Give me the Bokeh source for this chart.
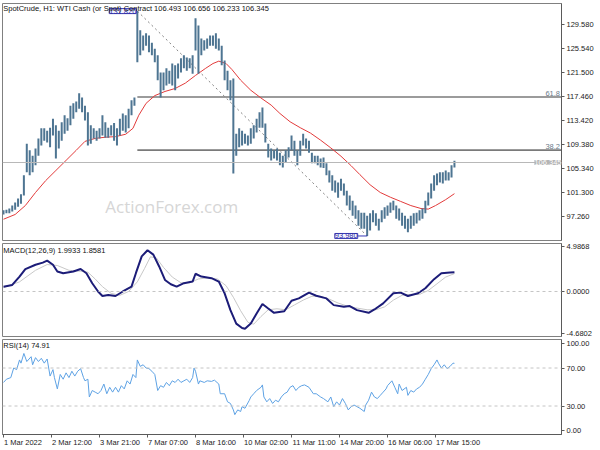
from bokeh.plotting import figure
from bokeh.models import Range1d, FixedTicker, Label, Span, PrintfTickFormatter
from bokeh.layouts import column
from bokeh.embed import file_html
from bokeh.resources import INLINE

FONT = "Liberation Sans"
FS = "7.5px"

# ---------------- data ----------------
x_labels = ["1 Mar 2022", "2 Mar 12:00", "3 Mar 21:00", "7 Mar 07:00", "8 Mar 16:00",
            "10 Mar 02:00", "11 Mar 11:00", "14 Mar 20:00", "16 Mar 06:00", "17 Mar 15:00"]
x_label_bars = [0, 33, 66, 99, 132, 165, 198, 231, 264, 297]

price_ticks = [97.26, 101.30, 105.34, 109.38, 113.42, 117.46, 121.50, 125.54, 129.58]

bar_high = [98.3, 98.4, 98.6, 99.1, 99.6, 100.3, 101.0, 104.2, 109.5, 108.4,
            107.5, 108.7, 110.4, 112.1, 112.1, 111.7, 112.2, 113.7, 112.6, 111.7,
            113.1, 114.3, 113.8, 115.9, 116.3, 116.6, 118.0, 117.3, 115.9, 114.8,
            112.6, 112.1, 111.7, 112.1, 114.3, 113.1, 112.2, 112.6, 113.0, 112.1,
            113.7, 114.6, 114.3, 115.4, 116.8, 117.3, 131.82, 128.6, 127.7, 128.1,
            127.7, 126.5, 125.5, 124.4, 121.5, 121.5, 122.2, 121.8, 123.0, 122.7,
            123.0, 123.9, 124.4, 124.0, 123.9, 124.4, 130.6, 129.4, 127.2, 126.9,
            127.2, 127.7, 127.7, 128.1, 127.2, 126.0, 123.5, 121.8, 120.2, 120.5,
            111.2, 112.1, 111.7, 111.2, 110.9, 112.1, 112.6, 113.7, 114.8, 115.6,
            112.9, 109.5, 108.7, 108.4, 108.7, 108.0, 107.5, 108.4, 108.9, 110.9,
            110.0, 108.4, 110.0, 111.2, 110.4, 110.0, 108.0, 107.5, 107.5, 107.0,
            107.2, 106.2, 105.0, 104.2, 103.3, 103.0, 103.6, 102.8, 101.6, 100.8,
            99.9, 99.1, 98.3, 97.9, 97.9, 97.4, 97.8, 98.3, 97.8, 96.9,
            98.3, 98.8, 99.1, 99.6, 99.9, 99.1, 98.6, 97.9, 97.4, 96.9,
            97.4, 97.8, 97.9, 98.3, 98.6, 99.9, 101.3, 102.8, 104.2, 104.5,
            104.7, 104.7, 105.0, 104.7, 105.9, 106.656]

bar_low = [97.6, 97.8, 97.8, 98.1, 98.4, 98.9, 99.4, 100.8, 104.7, 104.2,
           104.7, 105.9, 107.5, 109.2, 110.0, 109.7, 108.9, 110.9, 107.0, 108.7,
           110.0, 111.2, 111.7, 112.6, 113.7, 114.8, 115.4, 114.8, 113.4, 109.2,
           109.5, 110.4, 110.0, 110.4, 110.9, 110.5, 110.5, 110.9, 110.0, 109.2,
           110.9, 111.7, 111.4, 112.1, 114.3, 115.9, 123.2, 124.4, 125.2, 126.0,
           124.9, 124.4, 123.2, 120.2, 117.3, 118.5, 119.3, 119.6, 119.3, 118.5,
           120.5, 121.5, 122.2, 121.8, 122.2, 121.3, 125.2, 121.3, 124.4, 125.2,
           125.5, 126.0, 126.0, 125.5, 125.2, 122.7, 120.2, 118.5, 116.8, 104.5,
           107.5, 108.9, 109.2, 109.5, 109.2, 109.5, 110.4, 111.4, 112.2, 112.2,
           109.7, 107.2, 106.7, 107.0, 106.7, 105.9, 105.5, 106.3, 107.2, 108.4,
           107.5, 105.9, 107.5, 109.2, 108.7, 108.0, 106.2, 106.2, 105.9, 105.5,
           105.4, 104.2, 103.0, 101.6, 101.3, 100.4, 101.6, 100.8, 99.1, 98.3,
           97.4, 96.9, 95.7, 95.2, 95.2, 93.98, 94.9, 96.3, 95.7, 94.9,
           96.3, 96.9, 97.4, 97.9, 98.3, 96.9, 96.6, 95.7, 95.2, 94.6,
           95.2, 95.7, 96.1, 96.6, 96.9, 97.8, 99.1, 100.3, 101.6, 102.5,
           103.0, 102.8, 103.3, 103.3, 103.8, 105.5]

last_price = 106.345
swing_high = 131.82
swing_low = 93.98
swing_high_bar = 92
swing_low_bar = 250
fib_levels = [61.8, 38.2]

ma_idx = [0, 8, 15, 22, 29, 36, 43, 50, 56, 63, 70, 77, 84, 89, 93, 98, 104, 111, 118, 125,
          132, 139, 144, 148, 153, 157, 163, 170, 177, 184, 190, 197, 204, 211, 218, 225,
          232, 239, 245, 252, 259, 266, 273, 280, 287, 292, 297, 304, 310]
ma_val = [96.8, 97.6, 99.1, 101.3, 103.3, 105.0, 106.7, 108.4, 109.9, 110.4, 110.6, 110.7,
          111.1, 112.1, 114.3, 116.3, 117.6, 118.3, 118.8, 119.7, 121.0, 122.2, 123.0, 123.4,
          123.0, 122.0, 120.2, 118.5, 117.2, 116.0, 114.6, 113.2, 112.2, 111.3, 110.1, 108.8,
          107.4, 105.8, 104.3, 102.6, 101.3, 100.5, 99.8, 99.1, 98.6, 98.5, 99.1, 100.1, 101.1]

macd_max = 4.9868
macd_min = -4.6802
macd_idx = [0, 6, 11, 15, 22, 27, 30, 34, 37, 41, 48, 53, 57, 61, 65, 68, 72, 77, 82, 88,
            91, 95, 99, 103, 107, 111, 115, 119, 124, 130, 132, 136, 143, 148, 152, 156, 160, 164, 166, 170,
            174, 178, 182, 186, 193, 198, 203, 210, 215, 222, 227, 234, 238, 243, 251, 255, 261, 268, 273, 278,
            285, 290, 296, 301, 307, 310]
macd_val = [0.5, 0.68, 1.55, 2.33, 2.78, 3.0, 3.2, 2.78, 2.08, 1.9, 2.08, 2.33, 1.9, 0.86, 0.0, -0.47, -0.37, -0.47, 0.0, 0.5,
            1.9, 3.65, 4.29, 3.83, 2.6, 1.2, 0.75, 0.5, 0.86, 1.03, 1.84, 1.55, 1.38, 1.03, -0.19, -1.94, -3.34, -3.8, -3.87, -3.34,
            -2.29, -1.31, -1.77, -2.22, -2.05, -0.96, -0.72, -0.12, -0.44, -0.72, -1.42, -1.59, -1.52, -1.94, -2.22, -1.87, -1.24, -0.19, -0.12, -0.47,
            -0.19, 0.34, 1.28, 1.9, 1.97, 1.9933]
signal_idx = [0, 11, 22, 30, 37, 45, 53, 58, 63, 68, 74, 80, 86, 92, 97, 101, 105, 110, 116, 122,
              128, 134, 140, 147, 153, 158, 163, 168, 172, 177, 182, 188, 194, 200, 206, 212, 218, 224, 230, 236,
              242, 250, 256, 262, 268, 274, 280, 286, 292, 298, 304, 310]
signal_val = [0.4, 1.0, 2.2, 2.8, 2.7, 2.2, 2.1, 2.0, 1.3, 0.5, -0.2, -0.4, 0.0, 1.0, 2.4, 3.6, 3.5, 2.5, 1.5, 0.9,
              0.9, 1.3, 1.4, 1.3, 0.6, -0.6, -2.0, -3.2, -3.4, -2.6, -1.9, -1.8, -1.9, -1.4, -0.9, -0.5, -0.5, -0.8, -1.2, -1.5,
              -1.7, -1.9, -1.9, -1.6, -0.9, -0.4, -0.3, -0.3, 0.1, 0.8, 1.5, 1.8581]

rsi_idx = [0, 2, 5, 7, 9, 11, 12, 14, 16, 19, 20, 22, 24, 26, 28, 30, 32, 34, 35, 37,
           39, 41, 43, 45, 47, 49, 51, 53, 55, 56, 58, 59, 61, 63, 65, 67, 69, 71, 73, 75,
           77, 79, 81, 83, 85, 87, 89, 91, 92, 94, 96, 98, 100, 102, 104, 106, 108, 110, 112, 114,
           116, 118, 120, 122, 124, 126, 128, 130, 131, 132, 134, 135, 138, 140, 143, 145, 148, 149, 152, 154,
           156, 158, 159, 161, 163, 164, 166, 169, 170, 172, 174, 177, 178, 179, 181, 183, 185, 187, 189, 191,
           193, 195, 197, 199, 201, 203, 205, 207, 210, 213, 215, 218, 220, 223, 225, 227, 229, 231, 233, 235,
           237, 239, 241, 243, 245, 248, 249, 251, 253, 255, 257, 259, 261, 263, 264, 267, 269, 271, 272, 274,
           277, 278, 280, 282, 284, 286, 288, 290, 292, 294, 296, 298, 299, 301, 303, 305, 307, 309, 310]
rsi_val = [54.8, 58.2, 59.9, 70.0, 68.3, 78.5, 75.1, 85.3, 76.8, 81.9, 73.4, 80.9, 76.8, 80.2, 75.1, 79.5, 61.5, 68.3, 59.9, 48.0,
           63.2, 58.2, 64.9, 59.9, 66.6, 61.5, 66.6, 69.3, 59.9, 56.5, 58.2, 39.5, 46.3, 44.6, 42.9, 46.3, 53.1, 42.9, 49.7, 44.6,
           49.7, 44.6, 51.4, 48.0, 56.5, 53.1, 63.2, 59.9, 78.5, 71.7, 73.4, 70.0, 69.3, 66.6, 63.2, 46.3, 51.4, 49.7, 54.8, 51.4,
           56.5, 54.8, 58.2, 54.8, 56.5, 58.2, 54.8, 59.9, 70.0, 66.6, 53.1, 56.5, 54.8, 56.5, 55.9, 57.2, 53.1, 42.9, 42.9, 34.4,
           32.7, 25.9, 20.9, 25.9, 24.2, 29.3, 27.6, 36.1, 39.5, 42.9, 46.3, 49.7, 52.2, 39.5, 34.4, 37.8, 32.7, 36.1, 34.4, 39.5,
           42.9, 44.6, 49.7, 51.4, 46.3, 49.7, 51.4, 52.2, 49.7, 42.9, 42.9, 39.5, 37.8, 34.4, 39.5, 29.3, 34.4, 31.0, 37.8, 32.7,
           25.9, 29.3, 31.0, 29.3, 27.6, 24.2, 31.0, 36.1, 44.6, 39.5, 37.8, 41.2, 44.6, 48.0, 51.4, 56.5, 49.7, 42.9, 53.1, 46.3,
           49.7, 41.2, 46.3, 44.6, 48.0, 49.7, 53.1, 58.2, 63.2, 69.3, 73.4, 78.5, 75.1, 70.0, 73.4, 69.3, 71.7, 75.1, 74.91]
rsi_levels = [70, 30]

header = "SpotCrude, H1:  WTI Cash (or Spot) Contract  106.493 106.656 106.233 106.345"
macd_title = "MACD(12,26,9) 1.9933 1.8581"
rsi_title = "RSI(14) 74.91"

# ---------------- layout ----------------
bar_idx = list(range(0, 2 * len(bar_high), 2))
FW = 559
xr = Range1d(-0.7, 383.6)
PXB = FW / (xr.end - xr.start)   # pixels per bar
AX = "#5a5a5a"

# approximate glyph widths (em) of Liberation Sans, used to place x labels right of their tick
CW = {" ": .278, "M": .833, "a": .556, "r": .333, ":": .278}


def text_w(s, fs=7.5):
    return sum(CW.get(c, .556) for c in s) * fs


def make_fig(fh, yr, top, bottom, xaxis):
    p = figure(frame_width=FW, frame_height=fh, x_range=xr, y_range=yr,
               output_backend="svg", toolbar_location=None, tools="",
               x_axis_location="below" if xaxis else None, y_axis_location="right",
               min_border_left=2, min_border_right=0, min_border_top=top, min_border_bottom=bottom)
    p.grid.visible = False
    p.outline_line_color = "#808080"
    p.outline_line_width = 1
    p.background_fill_color = "white"
    p.border_fill_color = "white"
    for ax in p.axis:
        ax.axis_line_color = AX
        ax.major_tick_line_color = AX
        ax.minor_tick_line_color = None
        ax.major_tick_out = 3
        ax.major_tick_in = 0
        ax.major_label_standoff = 2
        ax.major_label_text_font = FONT
        ax.major_label_text_font_size = FS
        ax.major_label_text_color = "#222222"
    return p


# price panel
p1 = make_fig(237, Range1d(93.22, 133.1), 3, 1, False)
p1.yaxis.ticker = FixedTicker(ticks=price_ticks)
p1.yaxis.formatter = PrintfTickFormatter(format="%.3f")

p1.add_layout(Label(x=70, y=98.9, text="ActionForex.com", text_font="Open Sans",
                    text_font_size="17px", text_color="#d6d6d6", text_baseline="middle"))

p1.add_layout(Span(location=last_price, dimension="width", line_color="#b8b8b8", line_width=1))

rng = swing_high - swing_low
for lv in fib_levels:
    y = swing_low + lv / 100.0 * rng
    p1.line([swing_high_bar, xr.end], [y, y], line_color="#7a7a7a", line_width=1.6)
    p1.add_layout(Label(x=xr.end - 1, y=y, text=f"{lv:.1f}", text_align="right",
                        text_baseline="bottom", text_font=FONT, text_font_size=FS,
                        text_color="#6a7a8a", y_offset=1))

p1.line([swing_high_bar, swing_low_bar], [swing_high, swing_low], line_color="#808080",
        line_width=1, line_dash="2 3")

p1.line(ma_idx, ma_val, line_color="#e23b3b", line_width=1)

p1.segment(x0=bar_idx, y0=bar_low, x1=bar_idx, y1=bar_high, line_color="#4e7592", line_width=2)

p1.line([swing_low_bar - 6.5, swing_low_bar], [swing_low, swing_low], line_color="#3a3ab8", line_width=1)
p1.add_layout(Label(x=swing_high_bar, y=swing_high, text=f"{swing_high:.3f}", text_align="right",
                    text_baseline="middle", text_font=FONT, text_font_size=FS, text_color="#2c2ca0",
                    border_line_color="#3a3ab8", background_fill_color="#f4f4ff", x_offset=-1))
p1.add_layout(Label(x=swing_low_bar - 6.5, y=swing_low, text=f"{swing_low:.3f}", text_align="right",
                    text_baseline="middle", text_font=FONT, text_font_size=FS, text_color="#2c2ca0",
                    border_line_color="#3a3ab8", background_fill_color="#f4f4ff"))

p1.add_layout(Label(x=-0.2, y=133.0, text=header, text_baseline="top", text_font=FONT,
                    text_font_size=FS, text_color="#111111"))
# current price tag at the right edge of the chart area
p1.add_layout(Label(x=xr.end, y=last_price, text=f"{last_price:.3f}", text_baseline="middle",
                    text_align="right", text_font=FONT, text_font_size=FS, text_color="white",
                    background_fill_color="#b4b4b4"))

# MACD panel
p2 = make_fig(93, Range1d(macd_min, macd_max), 2, 2, False)
m_top, m_bot = macd_max - 0.31, macd_min + 0.36
p2.yaxis.ticker = FixedTicker(ticks=[m_bot, 0.0, m_top])
p2.yaxis.major_label_overrides = {m_bot: f"{macd_min:.4f}", 0.0: "0.0000", m_top: f"{macd_max:.4f}"}
p2.add_layout(Span(location=0, dimension="width", line_color="#c4c4c4", line_width=1, line_dash="3 3"))
p2.line(signal_idx, signal_val, line_color="#c8c8c8", line_width=1)
p2.line(macd_idx, macd_val, line_color="#1c1c78", line_width=2)
p2.add_layout(Label(x=-0.2, y=macd_max - 0.25, text=macd_title, text_baseline="top", text_font=FONT,
                    text_font_size=FS, text_color="#111111"))

# RSI panel
p3 = make_fig(95, Range1d(0, 100), 1, 0, True)
p3.yaxis.ticker = FixedTicker(ticks=[4.7, 30, 70, 96.0])
p3.yaxis.major_label_overrides = {4.7: "0.00", 30: "30.00", 70: "70.00", 96.0: "100.00"}
for lv in rsi_levels:
    p3.add_layout(Span(location=lv, dimension="width", line_color="#c4c4c4", line_width=1, line_dash="3 3"))
p3.line(rsi_idx, rsi_val, line_color="#5ea2e4", line_width=1)
p3.add_layout(Label(x=-0.2, y=98, text=rsi_title, text_baseline="top", text_font=FONT,
                    text_font_size=FS, text_color="#111111"))

# x axis: small tick marks (minor ticks) at the bars, each label written just right of its tick
label_pos = [b + (text_w(t) / 2 + 0.5) / PXB for b, t in zip(x_label_bars, x_labels)]
xa = p3.xaxis[0]
xa.ticker = FixedTicker(ticks=label_pos, minor_ticks=x_label_bars)
xa.major_label_overrides = {pos: t for pos, t in zip(label_pos, x_labels)}
xa.major_tick_line_color = None
xa.major_tick_out = 3
xa.minor_tick_line_color = AX
xa.minor_tick_out = 3
xa.minor_tick_in = 0
xa.major_label_standoff = 0

layout = column(p1, p2, p3, spacing=0)
open("out.html", "w").write(file_html(layout, INLINE))
